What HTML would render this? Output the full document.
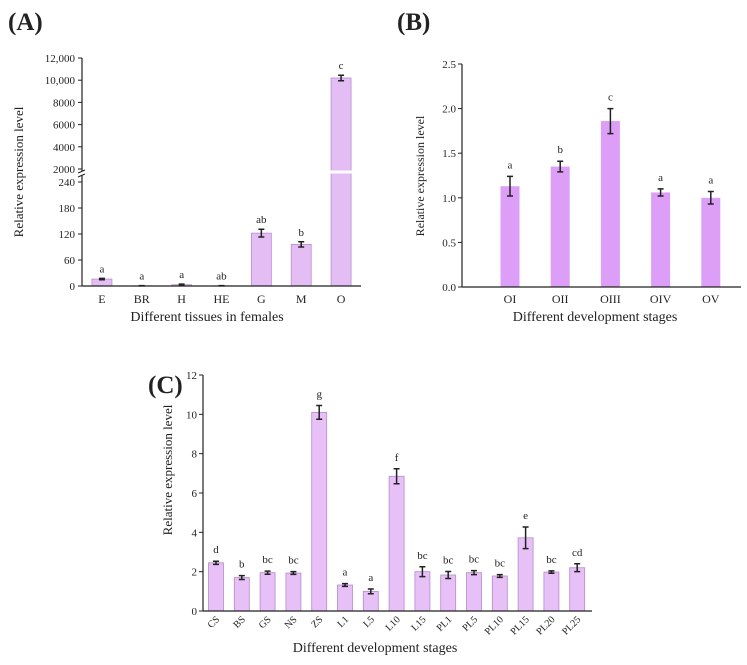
<!DOCTYPE html>
<html><head><meta charset="utf-8"><style>
body{margin:0;background:#fff}
svg text{font-family:"Liberation Serif",serif;fill:#222}
</style></head><body>
<svg id="s" width="747" height="660" xmlns="http://www.w3.org/2000/svg">
<text x="8" y="30" font-size="25" font-weight="bold">(A)</text>
<text x="397" y="30" font-size="25" font-weight="bold">(B)</text>
<text x="148" y="393" font-size="25" font-weight="bold">(C)</text>
</svg>
<script>
const aCats=["E","BR","H","HE","G","M","O"];
const aVals=[16,0.5,3,0.5,122,96,10200];
const aErr=[1.5,0.3,1.2,0.3,9,6,250];
const aSig=["a","a","a","ab","ab","b","c"];
const aLowTicks=[0,60,120,180,240];
const aHighTicks=[2000,4000,6000,8000,10000,12000];
const aHighLabels=["2000","4000","6000","8000","10,000","12,000"];
const bCats=["OI","OII","OIII","OIV","OV"];
const bVals=[1.13,1.35,1.86,1.06,1.0];
const bErr=[0.11,0.06,0.14,0.04,0.07];
const bSig=["a","b","c","a","a"];
const bTicks=[0,0.5,1.0,1.5,2.0,2.5];
const cCats=["CS","BS","GS","NS","ZS","L1","L5","L10","L15","PL1","PL5","PL10","PL15","PL20","PL25"];
const cVals=[2.45,1.7,1.95,1.93,10.1,1.32,1.0,6.85,2.0,1.83,1.95,1.78,3.72,1.98,2.2];
const cErr=[0.08,0.1,0.08,0.07,0.35,0.07,0.12,0.38,0.25,0.18,0.1,0.07,0.55,0.06,0.2];
const cSig=["d","b","bc","bc","g","a","a","f","bc","bc","bc","bc","e","bc","cd"];
const cTicks=[0,2,4,6,8,10,12];

const S=document.getElementById('s');const NS="http://www.w3.org/2000/svg";
function el(t,a,txt){const e=document.createElementNS(NS,t);for(const k in a)e.setAttribute(k,a[k]);if(txt!==undefined)e.textContent=txt;S.appendChild(e);return e;}
function errbar(x,y1,y2,name){
 let g=el('path',{d:`M${x},${y1}V${y2}M${x-3},${y1}H${x+3}M${x-3},${y2}H${x+3}`,stroke:'#222','stroke-width':1.5,fill:'none'});
 
 
}

// Panel A
(function(){
 const X0=82,X1=361,Y0=286;
 const yLow=v=>Y0-v*(104/240);
 const yHigh=v=>169-(v-2000)*(111/10000);
 const ya=v=>v<=240?yLow(v):yHigh(v);
 const step=(X1-X0)/7;
 aCats.forEach((c,i)=>{
  const cx=X0+step*(i+0.5),w=20,top=ya(aVals[i]);
  let r=el('rect',{x:cx-w/2,y:top,width:w,height:Y0-top,fill:'#e4bdf5',stroke:'#b98fcb','stroke-width':0.8});
  
  
  const et=ya(aVals[i]+aErr[i]),eb=ya(Math.max(0,aVals[i]-aErr[i]));
  errbar(cx,et,eb,'error-bar-a-'+c.toLowerCase());
  let s=el('text',{x:cx,y:et-6,'font-size':11,'text-anchor':'middle'},aSig[i]);
  
  
  let t=el('text',{x:cx,y:303,'font-size':12,'text-anchor':'middle'},c);
  
  
 });
 el('rect',{x:X0+step*6.5-11,y:170.5,width:22,height:3,fill:'#fff'});
 el('path',{d:`M${X0},${Y0}V58M${X0},${Y0}H${X1}`,stroke:'#222','stroke-width':1.2,fill:'none'});
 el('rect',{x:X0-3,y:171,width:6,height:4,fill:'#fff'});
 el('path',{d:`M${X0-4},173l7,-3M${X0-4},177l7,-3`,stroke:'#222','stroke-width':1});
 aLowTicks.forEach(v=>{const y=yLow(v);el('line',{x1:X0-4,x2:X0,y1:y,y2:y,stroke:'#222'});
  let t=el('text',{x:X0-7,y:y+4,'font-size':11,'text-anchor':'end'},String(v));
  });
 aHighTicks.forEach((v,i)=>{const y=yHigh(v);el('line',{x1:X0-4,x2:X0,y1:y,y2:y,stroke:'#222'});
  let t=el('text',{x:X0-7,y:y+4,'font-size':11,'text-anchor':'end'},aHighLabels[i]);
  });
 let yt=el('text',{x:0,y:0,'font-size':13,'text-anchor':'middle',transform:'translate(23,172) rotate(-90)'},'Relative expression level');
 
 let xt=el('text',{x:207,y:321,'font-size':14,'text-anchor':'middle'},'Different tissues in females');
 
})();

// Panel B
(function(){
 const X0=462,X1=741,Y0=287,Yt=64;
 const y=v=>Y0-v*(Y0-Yt)/2.5;
 const xc=i=>510+i*50.2;
 bCats.forEach((c,i)=>{
  const cx=xc(i),w=19,top=y(bVals[i]);
  let r=el('rect',{x:cx-w/2,y:top,width:w,height:Y0-top,fill:'#dc9ef6'});
  
  
  const et=y(bVals[i]+bErr[i]),eb=y(bVals[i]-bErr[i]);
  errbar(cx,et,eb,'error-bar-b-'+c.toLowerCase());
  let s=el('text',{x:cx,y:et-8,'font-size':11,'text-anchor':'middle'},bSig[i]);
  
  let t=el('text',{x:cx,y:303,'font-size':12,'text-anchor':'middle'},c);
  
 });
 el('path',{d:`M${X0},${Y0}V${Yt}M${X0},${Y0}H${X1}`,stroke:'#222','stroke-width':1.2,fill:'none'});
 bTicks.forEach(v=>{const yy=y(v);el('line',{x1:X0-4,x2:X0,y1:yy,y2:yy,stroke:'#222'});
  let t=el('text',{x:X0-6,y:yy+4,'font-size':11,'text-anchor':'end'},v.toFixed(1));
  });
 let yt=el('text',{x:0,y:0,'font-size':12,'text-anchor':'middle',transform:'translate(424,176) rotate(-90)'},'Relative expression level');
 
 let xt=el('text',{x:595,y:321,'font-size':14,'text-anchor':'middle'},'Different development stages');
 
})();

// Panel C
(function(){
 const X0=203,X1=592,Y0=611,Yt=375;
 const y=v=>Y0-v*(Y0-Yt)/12;
 const xc=i=>216+i*25.8;
 cCats.forEach((c,i)=>{
  const cx=xc(i),w=15,top=y(cVals[i]);
  let r=el('rect',{x:cx-w/2,y:top,width:w,height:Y0-top,fill:'#e8c0f8',stroke:'#b48bc6','stroke-width':0.8});
  
  
  const et=y(cVals[i]+cErr[i]),eb=y(cVals[i]-cErr[i]);
  errbar(cx,et,eb,'error-bar-c-'+c.toLowerCase());
  let s=el('text',{x:cx,y:et-8,'font-size':11,'text-anchor':'middle'},cSig[i]);
  
  let t=el('text',{x:0,y:0,'font-size':10,'text-anchor':'end',transform:`translate(${cx+4},${620}) rotate(-45)`},c);
  
 });
 el('path',{d:`M${X0},${Y0}V${Yt}M${X0},${Y0}H${X1}`,stroke:'#222','stroke-width':1.2,fill:'none'});
 cTicks.forEach(v=>{const yy=y(v);el('line',{x1:X0-4,x2:X0,y1:yy,y2:yy,stroke:'#222'});
  let t=el('text',{x:X0-6,y:yy+4,'font-size':11,'text-anchor':'end'},String(v));
  });
 let yt=el('text',{x:0,y:0,'font-size':13,'text-anchor':'middle',transform:'translate(172,470) rotate(-90)'},'Relative expression level');
 
 let xt=el('text',{x:375,y:652,'font-size':14,'text-anchor':'middle'},'Different development stages');
 
})();
</script>
</body></html>
